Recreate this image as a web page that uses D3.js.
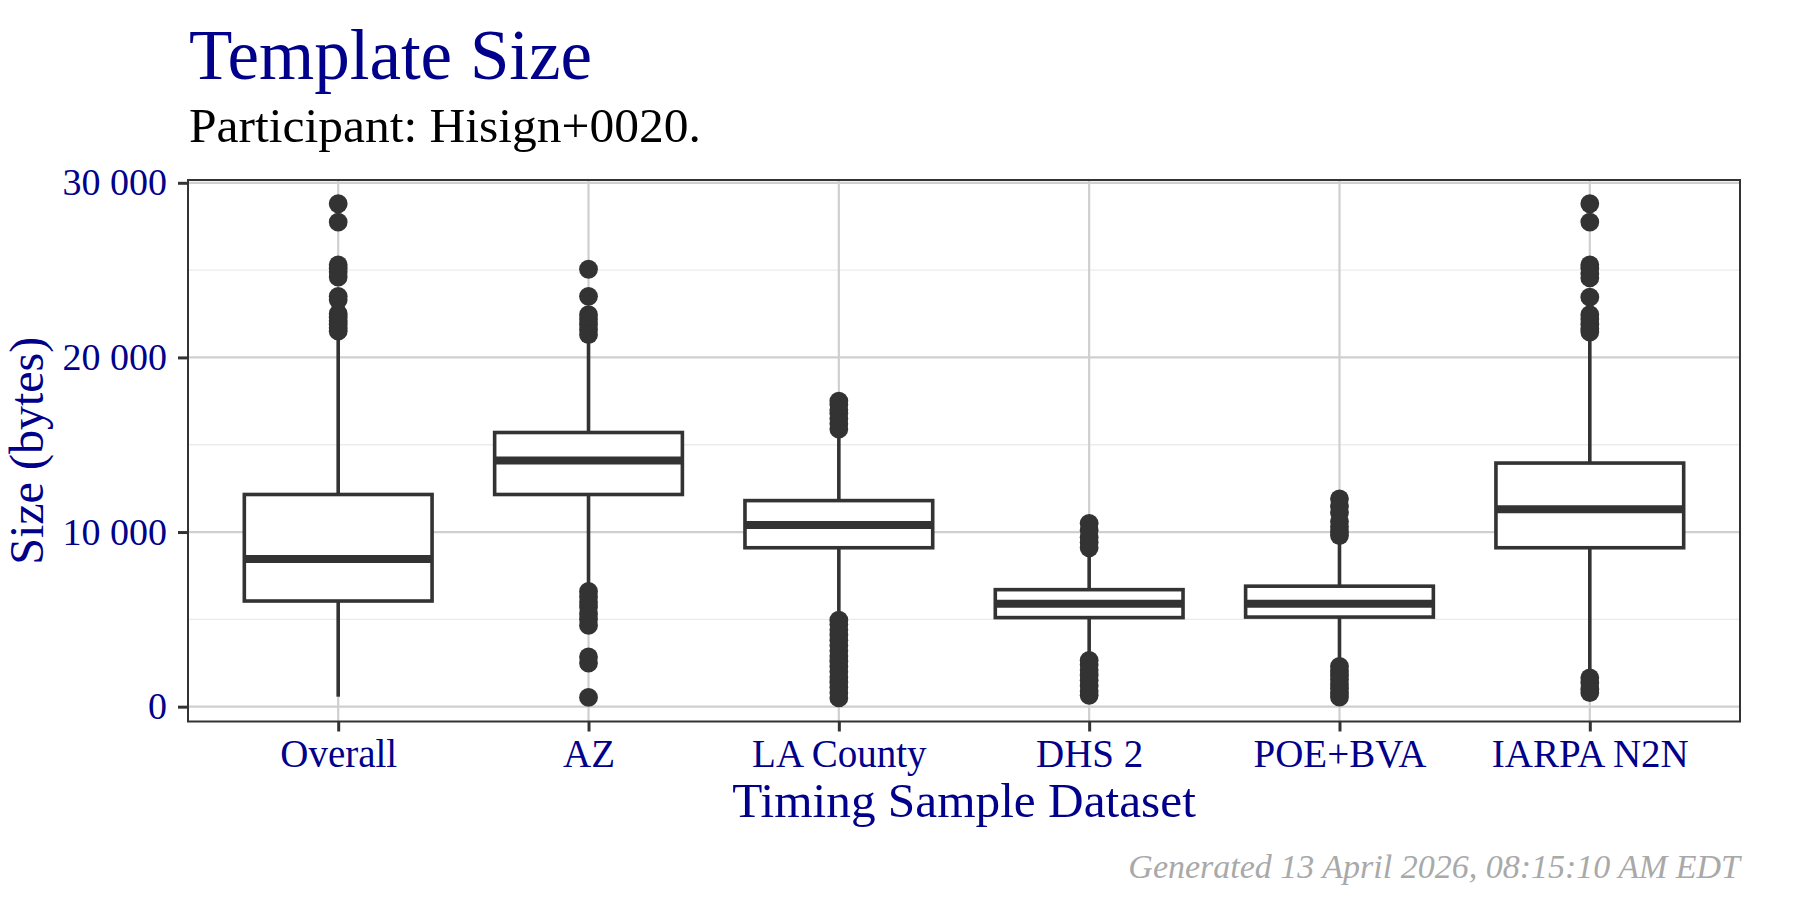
<!DOCTYPE html>
<html>
<head>
<meta charset="utf-8">
<title>Template Size</title>
<script src="https://cdn.jsdelivr.net/npm/d3@7/dist/d3.min.js"></script>
<style>
  body { margin: 0; background: #ffffff; }
  text { font-family: "Liberation Serif", "Times New Roman", serif; }
</style>
</head>
<body>
<div id="chart"></div>

<script>
// data (bytes)
var categories  = ["Overall", "AZ", "LA County", "DHS 2", "POE+BVA", "IARPA N2N"];
var q1          = [6050, 12150, 9100, 5100, 5130, 9100];
var medians     = [8450, 14100, 10400, 5900, 5900, 11300];
var q3          = [12150, 15700, 11800, 6700, 6900, 13950];
var whiskerLow  = [570, 6800, 5100, 2800, 2480, 1850];
var whiskerHigh = [21200, 21000, 15700, 8950, 9600, 21200];
var outliers = [
  [28800, 27750, 25300, 25100, 24900, 24600, 23500, 23300, 22500, 22300, 22100, 21900, 21700, 21500],
  [25050, 23500, 22450, 22200, 21900, 21600, 21300,
   6600, 6300, 6000, 5700, 5300, 5000, 4650, 2850, 2500, 530],
  [17500, 17300, 17000, 16800, 16500, 16200, 15900,
   4950, 4700, 4400, 4100, 3800, 3500, 3200, 2900, 2600, 2300, 2000, 1700, 1400, 1100, 800, 500],
  [10500, 10100, 9700, 9400, 9100,
   2650, 2400, 2100, 1800, 1500, 1200, 900, 650],
  [11900, 11500, 11100, 10600, 10300, 10000, 9800,
   2300, 2050, 1800, 1550, 1300, 1050, 800, 550],
  [28800, 27750, 25300, 25100, 24800, 24550, 23450, 22450, 22200, 21900, 21650, 21450,
   1650, 1350, 1000, 800]
];
var majorTicks = [0, 10000, 20000, 30000];
var minorTicks = [5000, 15000, 25000];

// dimensions
var margin = {top: 180, left: 188},
    width = 1552,
    height = 541.5;

var navy = "#00008b", ink = "#333333";

var svg = d3.select("#chart").append("svg")
    .attr("width", 1800)
    .attr("height", 900);

// titles
svg.append("text")
  .attr("x", 189).attr("y", 79)
  .style("font-size", "71px").style("fill", navy)
  .text("Template Size");

svg.append("text")
  .attr("x", 189).attr("y", 142)
  .style("font-size", "49.5px").style("fill", "#000000")
  .text("Participant: Hisign+0020.");

var g = svg.append("g")
    .attr("transform", "translate(" + margin.left + "," + margin.top + ")");

// scales
var x = d3.scalePoint().domain(categories).range([0, width]).padding(0.6);
var y = d3.scaleLinear().domain([-850, 30160]).range([height, 0]);
var bw = x.step() * 0.75;

// grid
g.selectAll(".minor").data(minorTicks).enter().append("line")
  .attr("x1", 0).attr("x2", width)
  .attr("y1", function(d) { return y(d); }).attr("y2", function(d) { return y(d); })
  .style("stroke", "#ebebeb").style("stroke-width", 1.4);

g.selectAll(".major").data(majorTicks).enter().append("line")
  .attr("x1", 0).attr("x2", width)
  .attr("y1", function(d) { return y(d); }).attr("y2", function(d) { return y(d); })
  .style("stroke", "#cfcfcf").style("stroke-width", 2.2);

g.selectAll(".vgrid").data(categories).enter().append("line")
  .attr("x1", function(d) { return x(d); }).attr("x2", function(d) { return x(d); })
  .attr("y1", 0).attr("y2", height)
  .style("stroke", "#cfcfcf").style("stroke-width", 2.2);

// boxes
var box = g.selectAll(".box").data(categories).enter().append("g");

box.append("line")
  .attr("x1", function(d) { return x(d); }).attr("x2", function(d) { return x(d); })
  .attr("y1", function(d, i) { return y(q3[i]); })
  .attr("y2", function(d, i) { return y(whiskerHigh[i]); })
  .style("stroke", ink).style("stroke-width", 3.6);

box.append("line")
  .attr("x1", function(d) { return x(d); }).attr("x2", function(d) { return x(d); })
  .attr("y1", function(d, i) { return y(q1[i]); })
  .attr("y2", function(d, i) { return y(whiskerLow[i]); })
  .style("stroke", ink).style("stroke-width", 3.6);

box.append("rect")
  .attr("x", function(d) { return x(d) - bw / 2; })
  .attr("y", function(d, i) { return y(q3[i]); })
  .attr("width", bw)
  .attr("height", function(d, i) { return y(q1[i]) - y(q3[i]); })
  .style("fill", "#ffffff").style("stroke", ink).style("stroke-width", 3.6);

box.append("line")
  .attr("x1", function(d) { return x(d) - bw / 2; })
  .attr("x2", function(d) { return x(d) + bw / 2; })
  .attr("y1", function(d, i) { return y(medians[i]); })
  .attr("y2", function(d, i) { return y(medians[i]); })
  .style("stroke", ink).style("stroke-width", 8);

box.each(function(d, i) {
  d3.select(this).selectAll("circle").data(outliers[i]).enter().append("circle")
    .attr("cx", x(d))
    .attr("cy", function(v) { return y(v); })
    .attr("r", 9.4)
    .style("fill", ink);
});

// panel border
g.append("rect")
  .attr("width", width).attr("height", height)
  .style("fill", "none").style("stroke", ink).style("stroke-width", 2);

// axes
var yAxis = g.append("g")
  .call(d3.axisLeft(y).tickValues(majorTicks).tickSize(10).tickPadding(11)
    .tickFormat(function(d) { return d3.format(",")(d).replace(/,/g, " "); }));
yAxis.select(".domain").remove();
yAxis.selectAll("line").style("stroke", ink).style("stroke-width", 3);
yAxis.selectAll("text").style("font-size", "38px").style("fill", navy)
  .style("font-family", "'Liberation Serif', serif");

var xAxis = g.append("g")
  .attr("transform", "translate(0," + height + ")")
  .call(d3.axisBottom(x).tickSize(10).tickPadding(8));
xAxis.select(".domain").remove();
xAxis.selectAll("line").style("stroke", ink).style("stroke-width", 3);
xAxis.selectAll("text").style("font-size", "39px").style("fill", navy)
  .style("font-family", "'Liberation Serif', serif");

// axis titles
svg.append("text")
  .attr("x", margin.left + width / 2).attr("y", 817)
  .attr("text-anchor", "middle")
  .style("font-size", "49.3px").style("fill", navy)
  .text("Timing Sample Dataset");

svg.append("text")
  .attr("transform", "translate(43," + (margin.top + height / 2) + ") rotate(-90)")
  .attr("text-anchor", "middle")
  .style("font-size", "48px").style("fill", navy)
  .text("Size (bytes)");

// caption
svg.append("text")
  .attr("x", 1740).attr("y", 878)
  .attr("text-anchor", "end")
  .style("font-size", "34px").style("font-style", "italic").style("fill", "#a9a9a9")
  .text("Generated 13 April 2026, 08:15:10 AM EDT");
</script>
</body>
</html>
